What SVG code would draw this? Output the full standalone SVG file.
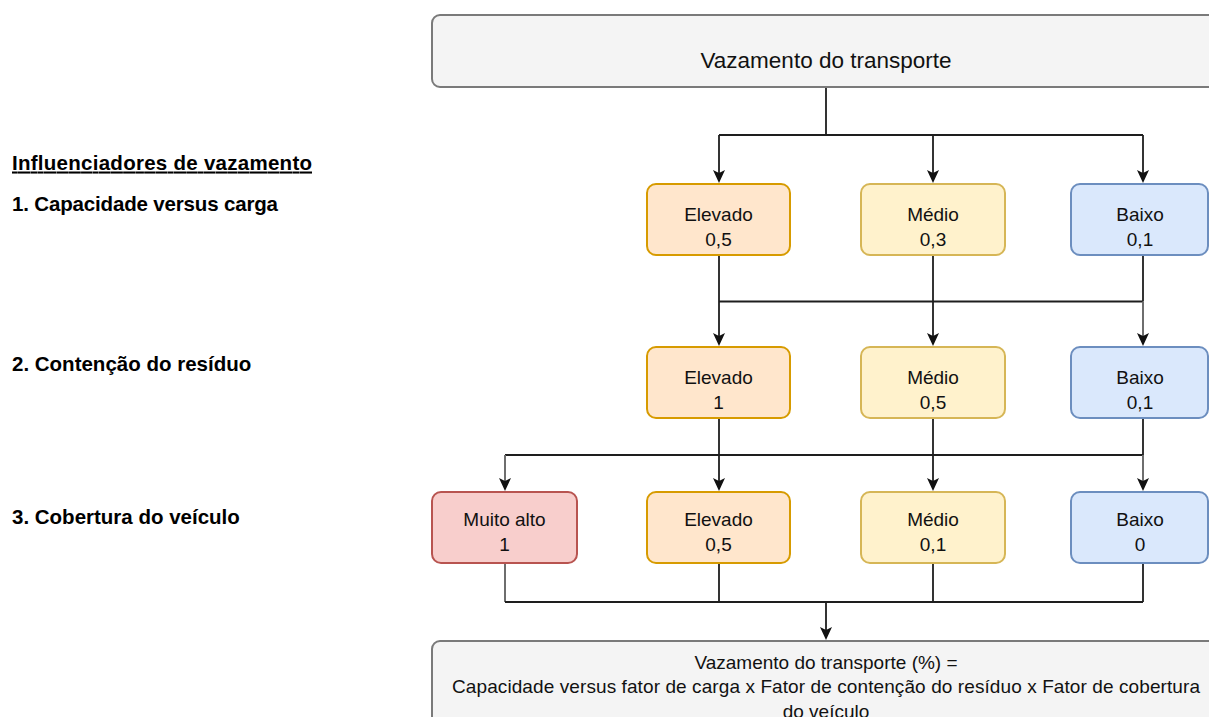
<svg xmlns="http://www.w3.org/2000/svg" width="1209" height="717" viewBox="0 0 1209 717">
  <style>
    .box { stroke-width: 2; }
    .neutral { fill: #f4f4f4; stroke: #7a7a7a; }
    .high { fill: #ffe6cc; stroke: #d79b00; }
    .mid { fill: #fff2cc; stroke: #d6b656; }
    .low { fill: #dae8fc; stroke: #6c8ebf; }
    .vhigh { fill: #f8cecc; stroke: #b85450; }
    .t { font-family: "Liberation Sans", Arial, sans-serif; font-size: 19px; fill: #111; text-anchor: middle; }
    .title { font-size: 22.5px; }
    .lbl { font-family: "Liberation Sans", Arial, sans-serif; font-size: 20.5px; font-weight: bold; fill: #000; }
    .wire { fill: none; stroke: #1e1e1e; stroke-width: 1.8; }
    .soft { stroke: #6e6e6e; stroke-width: 2; }
    .arr { marker-end: url(#arrow); }
  </style>
  <defs>
    <marker id="arrow" viewBox="0 -7 14 14" refX="11" refY="0" markerWidth="14" markerHeight="14" markerUnits="userSpaceOnUse" orient="auto">
      <path d="M0,-6 L13,0 L0,6 L3,0 Z" fill="#111"/>
    </marker>
  </defs>

  <rect width="1209" height="717" fill="#ffffff"/>

  <!-- side legend -->
  <g id="legend">
    <text class="lbl" x="12" y="169.5" text-decoration="underline" textLength="300">Influenciadores de vazamento</text>
    <text class="lbl" x="12" y="210.5" textLength="266">1. Capacidade versus carga</text>
    <text class="lbl" x="12" y="371">2. Contenção do resíduo</text>
    <text class="lbl" x="12" y="524">3. Cobertura do veículo</text>
  </g>

  <!-- connectors -->
  <g id="connectors">
    <path class="wire" d="M826,87 V135 M719,135 H1143"/>
    <path class="wire arr" d="M719,135 V181"/>
    <path class="wire arr" d="M933,135 V181"/>
    <path class="wire arr" d="M1143,135 V181"/>

    <path class="wire" d="M719,301.5 H1143 M1143,255 V301.5"/>
    <path class="wire arr" d="M719,255 V344"/>
    <path class="wire arr" d="M933,255 V344"/>
    <path class="wire soft arr" d="M1143,301.5 V344"/>

    <path class="wire" d="M505,455 H1143 M1143,418 V455"/>
    <path class="wire soft arr" d="M505,455 V489"/>
    <path class="wire arr" d="M719,418 V489"/>
    <path class="wire arr" d="M933,418 V489"/>
    <path class="wire soft arr" d="M1143,455 V489"/>

    <path class="wire soft" d="M505,563 V602"/>
    <path class="wire" d="M505,602 H1143 M719,563 V602 M933,563 V602 M1143,563 V602"/>
    <path class="wire arr" d="M826,602 V638"/>
  </g>

  <!-- source -->
  <g id="source">
    <rect class="box neutral" x="432" y="15" width="790" height="72" rx="8"/>
    <text class="t title" x="826" y="68">Vazamento do transporte</text>
  </g>

  <!-- 1. capacity versus load -->
  <g id="cap-high">
    <rect class="box high" x="647" y="184" width="143" height="71" rx="9"/>
    <text class="t" x="718.5" y="220.5">Elevado</text>
    <text class="t" x="718.5" y="246">0,5</text>
  </g>
  <g id="cap-mid">
    <rect class="box mid" x="861" y="184" width="144" height="71" rx="9"/>
    <text class="t" x="933" y="220.5">Médio</text>
    <text class="t" x="933" y="246">0,3</text>
  </g>
  <g id="cap-low">
    <rect class="box low" x="1071" y="184" width="137" height="71" rx="9"/>
    <text class="t" x="1140" y="220.5">Baixo</text>
    <text class="t" x="1140" y="246">0,1</text>
  </g>

  <!-- 2. waste containment -->
  <g id="cont-high">
    <rect class="box high" x="647" y="347" width="143" height="71" rx="9"/>
    <text class="t" x="718.5" y="383.5">Elevado</text>
    <text class="t" x="718.5" y="409">1</text>
  </g>
  <g id="cont-mid">
    <rect class="box mid" x="861" y="347" width="144" height="71" rx="9"/>
    <text class="t" x="933" y="383.5">Médio</text>
    <text class="t" x="933" y="409">0,5</text>
  </g>
  <g id="cont-low">
    <rect class="box low" x="1071" y="347" width="137" height="71" rx="9"/>
    <text class="t" x="1140" y="383.5">Baixo</text>
    <text class="t" x="1140" y="409">0,1</text>
  </g>

  <!-- 3. vehicle cover -->
  <g id="cover-vhigh">
    <rect class="box vhigh" x="432" y="492" width="145" height="71" rx="9"/>
    <text class="t" x="504.5" y="525.5">Muito alto</text>
    <text class="t" x="504.5" y="551">1</text>
  </g>
  <g id="cover-high">
    <rect class="box high" x="647" y="492" width="143" height="71" rx="9"/>
    <text class="t" x="718.5" y="525.5">Elevado</text>
    <text class="t" x="718.5" y="551">0,5</text>
  </g>
  <g id="cover-mid">
    <rect class="box mid" x="861" y="492" width="144" height="71" rx="9"/>
    <text class="t" x="933" y="525.5">Médio</text>
    <text class="t" x="933" y="551">0,1</text>
  </g>
  <g id="cover-low">
    <rect class="box low" x="1071" y="492" width="137" height="71" rx="9"/>
    <text class="t" x="1140" y="525.5">Baixo</text>
    <text class="t" x="1140" y="551">0</text>
  </g>

  <!-- result formula -->
  <g id="result">
    <rect class="box neutral" x="432" y="641" width="790" height="100" rx="8"/>
    <text class="t" x="826" y="668.5">Vazamento do transporte (%) =</text>
    <text class="t" x="826" y="693" textLength="748">Capacidade versus fator de carga x Fator de contenção do resíduo x Fator de cobertura</text>
    <text class="t" x="826" y="718">do veículo</text>
  </g>
</svg>
